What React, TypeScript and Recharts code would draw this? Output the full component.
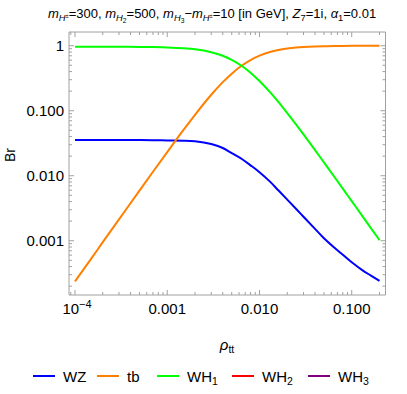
import React from 'react'
import { LineChart, Line, XAxis, YAxis } from 'recharts'

// rho_tt sample points and branching ratios
const rhoValues = [
  1e-4, 1.5e-4, 2e-4, 3e-4, 5e-4, 7e-4, 1e-3, 1.5e-3, 2e-3, 3e-3, 4e-3, 5e-3, 6.5e-3, 8e-3,
  0.01, 0.013, 0.016, 0.02, 0.025, 0.03, 0.04, 0.05, 0.065, 0.08, 0.1, 0.13, 0.16, 0.2,
]
const brWZ = [
  0.0354, 0.0354, 0.0354, 0.0354, 0.0353, 0.0352, 0.0349, 0.0346, 0.0339, 0.0307, 0.0267, 0.0222, 0.0179, 0.01445,
  0.01133, 0.00811, 0.00597, 0.00429, 0.00308, 0.00234, 0.00152, 0.00109, 0.000778, 0.000607, 0.000465, 0.000353, 0.000293, 0.000241,
]
const brTb = [
  0.000237, 0.00053, 0.00095, 0.00213, 0.0059, 0.0115, 0.0231, 0.0506, 0.0865, 0.176, 0.275, 0.372, 0.5, 0.602,
  0.703, 0.8, 0.858, 0.904, 0.937, 0.955, 0.974, 0.983, 0.99, 0.993, 0.995, 0.997, 0.998, 0.998,
]
const brWH1 = [
  0.965, 0.965, 0.964, 0.963, 0.959, 0.954, 0.943, 0.916, 0.882, 0.795, 0.7, 0.606, 0.483, 0.384,
  0.286, 0.193, 0.137, 0.092, 0.061, 0.0433, 0.0248, 0.016, 0.00955, 0.00633, 0.00406, 0.00241, 0.00159, 0.00102,
]

const xMajor = [0.0001, 0.001, 0.01, 0.1]
const xMajorLabels = ['10^-4', '0.001', '0.010', '0.100']
const yMajor = [0.001, 0.01, 0.1, 1]
const yMajorLabels = ['0.001', '0.010', '0.100', '1']

const legendItems = [
  { name: 'WZ', sub: '', color: '#0000ff' },
  { name: 'tb', sub: '', color: '#ff8000' },
  { name: 'WH', sub: '1', color: '#00ff00' },
  { name: 'WH', sub: '2', color: '#ff0000' },
  { name: 'WH', sub: '3', color: '#800080' },
]

const xDomain = [8.61e-5, 0.2323]
const yDomain = [1.462e-4, 1.626]

const minorSteps = [2, 3, 4, 5, 6, 7, 8, 9]
const xTicks = [...xMajor, ...[1e-5, 1e-4, 1e-3, 1e-2, 1e-1].flatMap((d) => minorSteps.map((m) => m * d))]
  .filter((v) => v >= xDomain[0] && v <= xDomain[1])
  .sort((a, b) => a - b)
const yTicks = [...yMajor, ...[1e-4, 1e-3, 1e-2, 1e-1, 1].flatMap((d) => minorSteps.map((m) => m * d))]
  .filter((v) => v >= yDomain[0] && v <= yDomain[1])
  .sort((a, b) => a - b)

const data = rhoValues.map((rho, i) => ({ rho, wz: brWZ[i], tb: brTb[i], wh1: brWH1[i] }))

const FRAME = '#a0a0a0'
const FONT = '"Liberation Sans", Arial, sans-serif'

const majorIndex = (list: number[], v: number) => list.findIndex((m) => Math.abs(m - v) / m < 1e-6)

function BottomTick(props: any) {
  const { x, y, payload } = props
  const idx = majorIndex(xMajor, payload.value)
  const label = idx >= 0 ? xMajorLabels[idx] : null
  return (
    <g>
      <line x1={x} x2={x} y1={y} y2={y - (idx >= 0 ? 5 : 3)} stroke={FRAME} />
      {label &&
        (label.startsWith('10^') ? (
          <text x={x + 2} y={y + 19} textAnchor="middle" fontSize={15} fontFamily={FONT} fill="#000">
            <tspan>10</tspan>
            <tspan dy={-6} fontSize={11}>{'\u2212' + label.slice(4)}</tspan>
          </text>
        ) : (
          <text x={x} y={y + 19} textAnchor="middle" fontSize={15} fontFamily={FONT} fill="#000">
            {label}
          </text>
        ))}
    </g>
  )
}

function TopTick(props: any) {
  const { x, y, payload } = props
  const major = majorIndex(xMajor, payload.value) >= 0
  return <line x1={x} x2={x} y1={y} y2={y + (major ? 5 : 3)} stroke={FRAME} />
}

function LeftTick(props: any) {
  const { x, y, payload } = props
  const idx = majorIndex(yMajor, payload.value)
  return (
    <g>
      <line x1={x} x2={x + (idx >= 0 ? 5 : 3)} y1={y} y2={y} stroke={FRAME} />
      {idx >= 0 && (
        <text x={x - 5} y={y + 5} textAnchor="end" fontSize={15} fontFamily={FONT} fill="#000">
          {yMajorLabels[idx]}
        </text>
      )}
    </g>
  )
}

function RightTick(props: any) {
  const { x, y, payload } = props
  const major = majorIndex(yMajor, payload.value) >= 0
  return <line x1={x} x2={x - (major ? 5 : 3)} y1={y} y2={y} stroke={FRAME} />
}

const subStyle: React.CSSProperties = { fontSize: '0.72em', position: 'relative', top: '0.3em' }
const supStyle: React.CSSProperties = { fontSize: '0.6em', position: 'relative', top: '-0.5em' }

function MH({ idx, pm }: { idx?: string; pm?: boolean }) {
  return (
    <>
      <i>m</i>
      <span style={subStyle}>
        <i>H</i>
        {pm ? <span style={supStyle}>±</span> : <span style={subStyle}>{idx}</span>}
      </span>
    </>
  )
}

export default function App() {
  return (
    <div style={{ position: 'absolute', left: 0, top: 0, width: 407, height: 394, background: '#fff', fontFamily: FONT }}>
      <div style={{ position: 'absolute', left: 48, top: 6, fontSize: 13, whiteSpace: 'nowrap', color: '#000' }}>
        <MH pm />=300, <MH idx="2" />=500, <MH idx="3" />{'\u2212'}<MH pm />=10 [in GeV], <i>Z</i>
        <span style={subStyle}>7</span>=1i, <i>α</i>
        <span style={subStyle}>1</span>=0.01
      </div>

      <LineChart width={407} height={394} data={data} margin={{ top: 31, right: 20.5, left: 68, bottom: 98 }}>
        <XAxis
          dataKey="rho"
          type="number"
          scale="log"
          domain={xDomain}
          allowDataOverflow
          ticks={xTicks}
          interval={0}
          height={1}
          tickSize={0}
          tickMargin={0}
          tickLine={false}
          axisLine={{ stroke: FRAME }}
          tick={BottomTick}
        />
        <XAxis
          xAxisId="top"
          orientation="top"
          dataKey="rho"
          type="number"
          scale="log"
          domain={xDomain}
          allowDataOverflow
          ticks={xTicks}
          interval={0}
          height={1}
          tickSize={0}
          tickMargin={0}
          tickLine={false}
          axisLine={{ stroke: FRAME }}
          tick={TopTick}
        />
        <YAxis
          type="number"
          scale="log"
          domain={yDomain}
          allowDataOverflow
          ticks={yTicks}
          interval={0}
          width={1}
          tickSize={0}
          tickMargin={0}
          tickLine={false}
          axisLine={{ stroke: FRAME }}
          tick={LeftTick}
        />
        <YAxis
          yAxisId="right"
          orientation="right"
          type="number"
          scale="log"
          domain={yDomain}
          allowDataOverflow
          ticks={yTicks}
          interval={0}
          width={1}
          tickSize={0}
          tickMargin={0}
          tickLine={false}
          axisLine={{ stroke: FRAME }}
          tick={RightTick}
        />
        <Line dataKey="wz" type="monotone" stroke="#0000ff" strokeWidth={2} dot={false} isAnimationActive={false} />
        <Line dataKey="tb" type="monotone" stroke="#ff8000" strokeWidth={2} dot={false} isAnimationActive={false} />
        <Line dataKey="wh1" type="monotone" stroke="#00ff00" strokeWidth={2} dot={false} isAnimationActive={false} />
      </LineChart>

      {/* axis titles */}
      <div style={{ position: 'absolute', left: 10, top: 155, transform: 'translate(-50%, -50%) rotate(-90deg)', fontSize: 14 }}>
        Br
      </div>
      <div style={{ position: 'absolute', left: 227, top: 336, transform: 'translateX(-50%)', fontSize: 15, whiteSpace: 'nowrap' }}>
        <i>ρ</i>
        <span style={{ fontSize: '0.7em', position: 'relative', top: '0.3em' }}>tt</span>
      </div>

      {/* legend */}
      {legendItems.map((item, i) => {
        const lefts = [33, 97, 157, 232, 308]
        return (
          <div
            key={i}
            style={{ position: 'absolute', left: lefts[i], top: 366, height: 20, display: 'flex', alignItems: 'center', fontSize: 15, whiteSpace: 'nowrap' }}
          >
            <span style={{ display: 'inline-block', width: 22, height: 2, background: item.color, marginRight: 8 }} />
            <span>
              {item.name}
              {item.sub && <span style={{ fontSize: '0.7em', position: 'relative', top: '0.3em' }}>{item.sub}</span>}
            </span>
          </div>
        )
      })}
    </div>
  )
}
